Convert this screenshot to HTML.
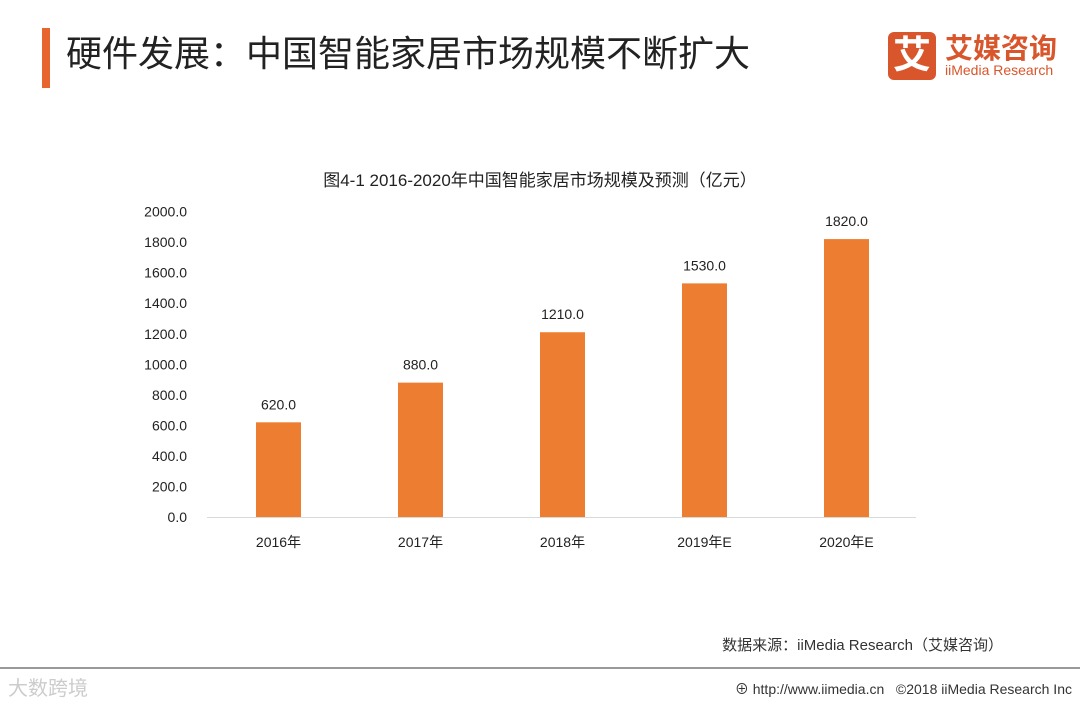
<!DOCTYPE html>
<html><head><meta charset="utf-8"><style>
body{margin:0;width:1080px;height:702px;background:#fff;overflow:hidden;position:relative;font-family:"Liberation Sans","Noto Sans CJK SC",sans-serif;color:#222}
.abs{position:absolute}
</style></head><body>
<div class="abs" style="left:42px;top:28px;width:8px;height:60px;background:#e8652f"></div>
<div class="abs" style="left:66px;top:30px;font-size:36px;line-height:48px;color:#222">硬件发展：中国智能家居市场规模不断扩大</div>
<div class="abs" style="left:888px;top:32px;width:170px;height:48px">
 <div style="position:absolute;left:0;top:0;width:48px;height:48px;background:#d9552b;border-radius:6px;color:#fff;font-size:38px;line-height:48px;text-align:center;font-weight:bold">艾</div>
 <div style="position:absolute;left:57px;top:-5px;font-size:28px;color:#d9552b;font-weight:bold;white-space:nowrap">艾媒咨询</div>
 <div style="position:absolute;left:57px;top:30px;font-size:14px;color:#d9552b;white-space:nowrap">iiMedia Research</div>
</div>
<svg class="abs" style="left:0;top:0" width="1080" height="702">
<text x="540" y="186" text-anchor="middle" font-size="17" fill="#222">图4-1 2016-2020年中国智能家居市场规模及预测（亿元）</text>
<line x1="207" y1="517.5" x2="916" y2="517.5" stroke="#d9d9d9" stroke-width="1"/>
<g id="yt"></g><g id="bars"></g>
</svg>
<div class="abs" style="right:77px;top:634px;font-size:15px;color:#333">数据来源：iiMedia Research（艾媒咨询）</div>
<div class="abs" style="left:0;top:667px;width:1080px;height:2px;background:#999"></div>
<div class="abs" style="left:8px;top:672px;font-size:20px;color:#ccc">大数跨境</div>
<div class="abs" style="right:8px;top:679px;font-size:14px;color:#333">⊕ http://www.iimedia.cn &nbsp;&nbsp;©2018 iiMedia Research Inc</div>
<script>
const categories=["2016年","2017年","2018年","2019年E","2020年E"];
const values=[620,880,1210,1530,1820];
const yTicks=[0,200,400,600,800,1000,1200,1400,1600,1800,2000];
const NS="http://www.w3.org/2000/svg";
const y=v=>517-v*0.1527;
const x=i=>278.5+i*142;
const yt=document.getElementById('yt'),bars=document.getElementById('bars');
yTicks.forEach(t=>{const e=document.createElementNS(NS,'text');


e.setAttribute('x',187);e.setAttribute('y',y(t)+5);e.setAttribute('text-anchor','end');e.setAttribute('font-size','14');e.setAttribute('fill','#222');e.textContent=t.toFixed(1);yt.appendChild(e);});
values.forEach((v,i)=>{const r=document.createElementNS(NS,'rect');


r.setAttribute('x',x(i)-22.5);r.setAttribute('width',45);r.setAttribute('y',y(v));r.setAttribute('height',517-y(v));r.setAttribute('fill','#ed7d31');bars.appendChild(r);
const l=document.createElementNS(NS,'text');


l.setAttribute('x',x(i));l.setAttribute('y',y(v)-13);l.setAttribute('text-anchor','middle');l.setAttribute('font-size','14');l.setAttribute('fill','#222');l.textContent=v.toFixed(1);bars.appendChild(l);
const c=document.createElementNS(NS,'text');


c.setAttribute('x',x(i));c.setAttribute('y',547);c.setAttribute('text-anchor','middle');c.setAttribute('font-size','14');c.setAttribute('fill','#222');c.textContent=categories[i];bars.appendChild(c);});
</script>
</body></html>
